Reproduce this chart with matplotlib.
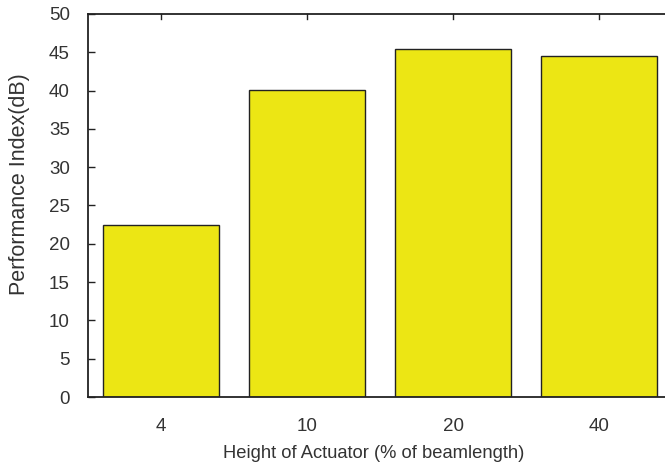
import numpy as np
import matplotlib
matplotlib.use("Agg")
import matplotlib.pyplot as plt

matplotlib.rcParams['font.family'] = ['Liberation Sans', 'DejaVu Sans']

# data
heights = ['4', '10', '20', '40']
perf_db = [22.5, 40.1, 45.4, 44.5]
y_ticks = [0, 5, 10, 15, 20, 25, 30, 35, 40, 45, 50]

TXT = '#333333'

fig = plt.figure(figsize=(6.65, 4.65), dpi=100)
# plot area runs slightly past the right edge of the picture (as in the original)
ax = fig.add_axes([88/665, 1 - 397/465, 584/665, 383/465])

x = np.arange(len(heights))
ax.bar(x, perf_db, width=0.8, color='#ece614', edgecolor='#222222', linewidth=1.0, zorder=2)

ax.set_xlim(-0.5, len(heights) - 0.5)
ax.set_ylim(0, 50)
ax.set_xticks(x)
ax.set_xticklabels(heights)
ax.set_yticks(y_ticks)

ax.tick_params(direction='in', length=5, width=1, colors='#222222',
               labelcolor=TXT, labelsize=13.5, top=True, right=False)
ax.tick_params(axis='x', length=0, pad=15)
ax.tick_params(axis='y', pad=13)
# small ticks on the top edge only
for xi in x:
    ax.plot([xi, xi], [50, 50 - 50*5/383], color='#222222', lw=1, clip_on=False, zorder=3)

for s in ax.spines.values():
    s.set_linewidth(1.3)
    s.set_color('#222222')

ax.set_xlabel('Height of Actuator (% of beamlength)', fontsize=13.2, color=TXT)
ax.xaxis.set_label_coords(0.49, -0.125)
ax.set_ylabel('Performance Index(dB)', fontsize=15.5, color=TXT)
ax.yaxis.set_label_coords(-0.099, 0.557)

fig.savefig('out.png', dpi=100)
